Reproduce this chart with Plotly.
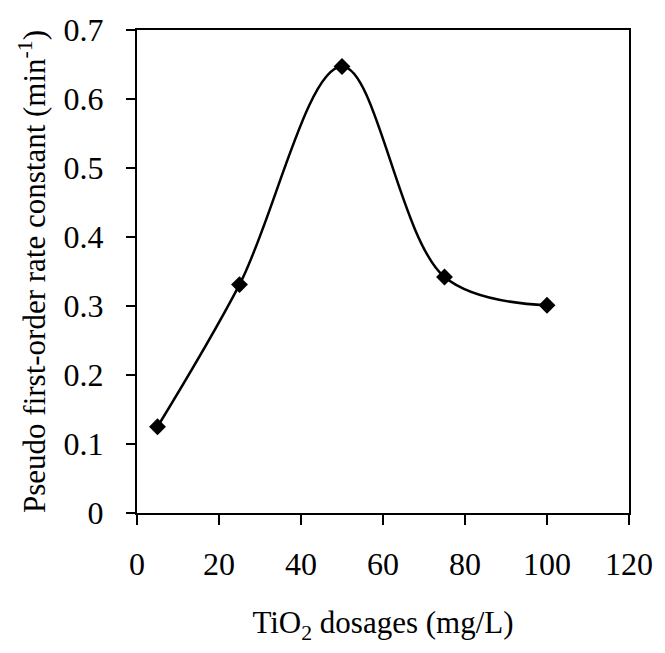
import plotly.graph_objects as go

dosage = [5, 25, 50, 75, 100]
rate_constant = [0.125, 0.331, 0.647, 0.342, 0.301]
x_ticks = [0, 20, 40, 60, 80, 100, 120]
y_ticks = [0, 0.1, 0.2, 0.3, 0.4, 0.5, 0.6, 0.7]
y_tick_text = ["0", "0.1", "0.2", "0.3", "0.4", "0.5", "0.6", "0.7"]

FONT = "Liberation Serif"

fig = go.Figure()
fig.add_trace(go.Scatter(
    x=dosage, y=rate_constant,
    mode="lines+markers",
    line=dict(color="black", width=2.5, shape="spline", smoothing=1.0),
    marker=dict(symbol="diamond", size=13, color="black"),
    showlegend=False,
))

fig.update_layout(
    width=665, height=653,
    margin=dict(l=137, r=28, t=20, b=140),
    plot_bgcolor="white", paper_bgcolor="white",
    font=dict(family=FONT, size=31, color="black"),
)
fig.update_xaxes(
    range=[0, 120], tickvals=x_ticks, ticktext=[str(v) for v in x_ticks],
    showline=True, linecolor="black", linewidth=2, mirror=True,
    ticks="outside", ticklen=10, tickwidth=2, tickcolor="black",
    showgrid=False, zeroline=False,
    tickfont=dict(family=FONT, size=32),
    ticklabelstandoff=12,
    title=dict(text="TiO<sub>2</sub> dosages (mg/L)", font=dict(family=FONT, size=31), standoff=30),
)
fig.update_yaxes(
    range=[0, 0.7], tickvals=y_ticks, ticktext=y_tick_text,
    showline=True, linecolor="black", linewidth=2, mirror=True,
    ticks="outside", ticklen=9, tickwidth=2, tickcolor="black",
    showgrid=False, zeroline=False,
    tickfont=dict(family=FONT, size=32),
    ticklabelstandoff=16,
    title=dict(text="Pseudo first-order rate constant (min<sup>-1</sup>)", font=dict(family=FONT, size=31), standoff=9),
)

fig.write_html("out.html")
